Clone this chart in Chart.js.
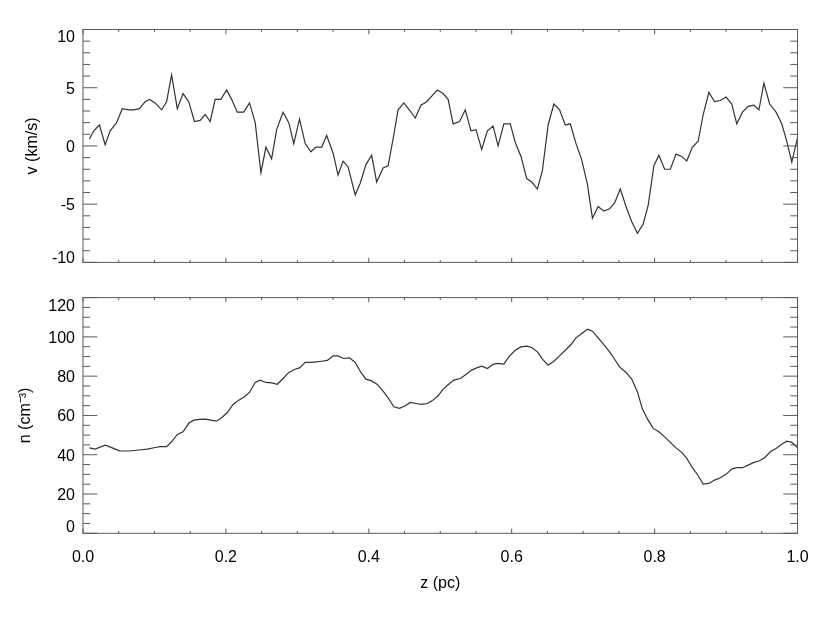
<!doctype html>
<html lang="en">

<head>
    <meta charset="utf-8">
    <title>v and n along z</title>
    <style>
        body { margin: 0; background: #fff; }
        .panel { position: absolute; left: 0; width: 830px; }
    </style>
</head>

<body>
    <div class="panel" style="top:0;height:280px"><canvas id="velChart"></canvas></div>
    <div class="panel" style="top:280px;height:348px"><canvas id="denChart"></canvas></div>

    <script src="https://cdn.jsdelivr.net/npm/chart.js@4.4.0/dist/chart.umd.min.js"></script>
    <script>
        // velocity profile
        const zV = [.009, .015, .023, .031, .038, .047, .055, .064, .071, .079, .087, .093, .101, .110, .117, .124,
            .132, .140, .148, .156, .164, .171, .178, .185, .193, .201, .208, .216, .225, .233, .241, .249, .256, .264,
            .271, .280, .288, .295, .303, .311, .319, .326, .334, .341, .350, .357, .364, .371, .381, .388, .396, .404,
            .411, .420, .427, .434, .441, .449, .458, .465, .473, .481, .490, .496,
            .504, .511, .518, .527, .535, .543, .550, .558, .566, .574, .581, .589, .598, .605, .613, .621, .628, .636,
            .643, .651, .659, .667, .675, .682, .690, .698, .706, .713, .721, .729, .737, .744, .752, .760, .768, .776,
            .784, .791, .799, .806, .814, .822, .830, .838, .845, .853, .861, .868, .876, .884, .892, .900, .908, .915,
            .923, .931, .939, .946, .953, .961, .970, .978, .985, .992, 1.0];
        const velocity = [0.6, 1.3, 1.8, 0.1, 1.3, 2.0, 3.2, 3.1, 3.1, 3.2, 3.8, 4.0, 3.7, 3.1, 3.8, 6.1,
            3.2, 4.5, 3.8, 2.1, 2.2, 2.7, 2.1, 4.0, 4.0, 4.8, 4.0, 2.9, 2.9, 3.7, 2.0, -2.3, -0.1, -1.1,
            1.4, 2.9, 2.0, 0.2, 2.3, 0.2, -0.5, -0.1, -0.1, 0.9, -0.6, -2.5, -1.3, -1.8, -4.2, -3.2, -1.6, -0.8,
            -3.1, -1.9, -1.7, 0.6, 3.1, 3.7, 3.0, 2.4, 3.5, 3.8, 4.4, 4.8,
            4.5, 4.0, 1.9, 2.1, 3.1, 1.3, 1.4, -0.3, 1.3, 1.7, 0.0, 1.9, 1.9, 0.3, -0.9, -2.8, -3.1, -3.7,
            -2.1, 1.8, 3.6, 3.1, 1.8, 1.9, 0.2, -1.2, -3.3, -6.2, -5.2, -5.6, -5.4, -4.9, -3.7, -5.2, -6.5, -7.5,
            -6.7, -5.1, -1.7, -0.8, -2.0, -2.0, -0.7, -0.9, -1.3, -0.1, 0.4, 2.7, 4.6, 3.8, 3.9, 4.2, 3.6, 1.9,
            2.9, 3.4, 3.5, 3.1, 5.4, 3.6, 2.9, 1.9, 0.4, -1.4, 0.7];

        // density profile
        const zN = [.009, .017, .031, .041, .051, .064, .078, .090, .101, .108, .117, .124, .132, .140, .148, .155,
            .163, .171, .179, .187, .194, .202, .210, .218, .226, .233, .241, .248, .256, .264, .272, .280, .288, .296,
            .303, .311, .319, .327, .334, .342, .350, .357, .365, .373, .381, .389, .396, .404, .412, .420, .427, .435,
            .443, .451, .458, .466, .474, .482, .490,
            .497, .504, .513, .519, .528, .536, .544, .551, .558, .566, .574, .581, .589, .597, .605, .613, .621, .628,
            .636, .643, .651, .659, .668, .675, .683, .690, .698, .706, .713, .721, .729, .737, .745, .751, .760, .768,
            .776, .783, .791, .798, .806, .814, .822, .830, .838, .845, .853, .861, .868, .876, .884, .892, .900, .908,
            .915, .923, .931, .939, .946, .954, .962, .970, .978, .985, .992, 1.0];
        const density = [43.5, 42.9, 44.9, 43.5, 42.0, 41.9, 42.4, 42.9, 43.7, 44.1, 44.1, 46.6, 50.3, 51.7, 56.0, 57.6,
            58.0, 58.1, 57.6, 57.1, 58.8, 61.5, 65.6, 67.8, 69.5, 71.7, 76.8, 78.0, 76.8, 76.6, 75.9, 78.8, 81.9, 83.4,
            84.2, 87.0, 87.0, 87.3, 87.6, 88.0, 90.3, 90.3, 89.0, 89.3, 87.0, 81.9, 78.5, 77.6, 75.8, 72.4, 69.0, 64.4,
            63.6, 64.9, 66.6, 66.1, 65.6, 66.1, 67.8,
            70.0, 73.4, 76.3, 78.0, 78.8, 80.9, 83.1, 84.2, 85.1, 83.9, 86.0, 86.5, 86.1, 90.3, 93.2, 94.9, 95.3, 94.6,
            92.4, 88.7, 85.6, 87.6, 90.7, 93.2, 96.1, 99.5, 101.7, 103.9, 102.9, 99.5, 96.1, 92.4, 88.1, 84.7, 81.9, 78.5,
            72.0, 63.2, 57.6, 53.4, 51.7, 49.1, 46.3, 43.5, 41.2, 38.1, 33.4, 29.3, 25.1, 25.4, 27.1, 28.3, 30.0, 32.7,
            33.4, 33.4, 34.7, 36.1, 36.8, 38.5, 41.5, 43.2, 45.3, 46.9, 46.3, 43.5];

        const zRange = [0, 1];
        const vRange = [-10, 10];
        const nRange = [0, 120];

        Chart.defaults.font.family = "'Liberation Sans', Arial, Helvetica, sans-serif";
        Chart.defaults.font.size = 16;
        Chart.defaults.color = '#000';

        // IDL-style box with inward ticks on all four sides,
        // plus the end labels of the y axis nudged inside the box like IDL does
        const boxTicks = {
            id: 'boxTicks',
            afterDatasetsDraw(chart, args, opts) {
                const { ctx, chartArea: a, scales: { x, y } } = chart;
                ctx.save();
                ctx.strokeStyle = '#5a5a5a';
                ctx.lineWidth = 1;
                ctx.strokeRect(a.left, a.top, a.right - a.left, a.bottom - a.top);
                ctx.beginPath();
                for (let i = 0; i <= Math.round((x.max - x.min) / opts.xMinor); i++) {
                    const px = x.getPixelForValue(x.min + i * opts.xMinor);
                    const len = i % opts.xEvery === 0 ? 4.7 : 2.4;
                    ctx.moveTo(px, a.bottom); ctx.lineTo(px, a.bottom - len);
                    ctx.moveTo(px, a.top); ctx.lineTo(px, a.top + len);
                }
                for (let i = 0; i <= Math.round((y.max - y.min) / opts.yMinor); i++) {
                    const py = y.getPixelForValue(y.min + i * opts.yMinor);
                    const len = i % opts.yEvery === 0 ? 14.3 : 7.2;
                    ctx.moveTo(a.left, py); ctx.lineTo(a.left + len, py);
                    ctx.moveTo(a.right, py); ctx.lineTo(a.right - len, py);
                }
                ctx.stroke();

                ctx.fillStyle = '#000';
                ctx.font = "16px 'Liberation Sans', Arial, sans-serif";
                ctx.textAlign = 'right';
                ctx.textBaseline = 'middle';
                ctx.fillText(String(y.max), a.left - 8, y.getPixelForValue(y.max) + 8.5);
                ctx.fillText(String(y.min), a.left - 8, y.getPixelForValue(y.min) - opts.lowShift);
                ctx.restore();
            }
        };

        function lineSet(xs, ys) {
            return {
                data: xs.map((z, i) => ({ x: z, y: ys[i] })),
                borderColor: '#333',
                borderWidth: 1.2,
                pointRadius: 0,
                tension: 0,
                fill: false
            };
        }

        function yAxis(range, step, title, titlePad) {
            return {
                min: range[0],
                max: range[1],
                grid: { display: false, drawTicks: false },
                border: { display: false },
                ticks: {
                    stepSize: step,
                    padding: 8,
                    labelOffset: 1.5,
                    // the two end labels are drawn by boxTicks
                    color: c => (c.tick && (c.tick.value === range[0] || c.tick.value === range[1])) ? 'rgba(0,0,0,0)' : '#000'
                },
                title: { display: true, text: title, font: { size: 16 }, padding: { top: titlePad } },
                afterFit: s => { s.width = 83; }
            };
        }

        new Chart(document.getElementById('velChart'), {
            type: 'line',
            data: { datasets: [lineSet(zV, velocity)] },
            options: {
                responsive: true,
                maintainAspectRatio: false,
                animation: false,
                layout: { padding: { top: 29.5, right: 32.5, bottom: 15.5, left: 0 } },
                plugins: {
                    legend: { display: false },
                    tooltip: { enabled: false },
                    boxTicks: { xMinor: 0.05, xEvery: 4, yMinor: 1, yEvery: 5, lowShift: 3.5 }
                },
                scales: {
                    x: { type: 'linear', min: zRange[0], max: zRange[1], display: false },
                    y: yAxis(vRange, 5, 'v (km/s)', 23.4)
                }
            },
            plugins: [boxTicks]
        });

        new Chart(document.getElementById('denChart'), {
            type: 'line',
            data: { datasets: [lineSet(zN, density)] },
            options: {
                responsive: true,
                maintainAspectRatio: false,
                animation: false,
                layout: { padding: { top: 17.5, right: 32.5, bottom: 0, left: 0 } },
                plugins: {
                    legend: { display: false },
                    tooltip: { enabled: false },
                    boxTicks: { xMinor: 0.05, xEvery: 4, yMinor: 5, yEvery: 4, lowShift: 5.5 }
                },
                scales: {
                    x: {
                        type: 'linear',
                        min: zRange[0],
                        max: zRange[1],
                        grid: { display: false, drawTicks: false },
                        border: { display: false },
                        ticks: { stepSize: 0.2, padding: 15, maxRotation: 0, callback: v => v.toFixed(1) },
                        title: { display: true, text: 'z (pc)', font: { size: 16 }, padding: { bottom: 34.4 } },
                        afterFit: s => { s.height = 94.7; }
                    },
                    y: yAxis(nRange, 20, 'n (cm\u207B\u00B3)', 16.4)
                }
            },
            plugins: [boxTicks]
        });
    </script>
</body>

</html>
